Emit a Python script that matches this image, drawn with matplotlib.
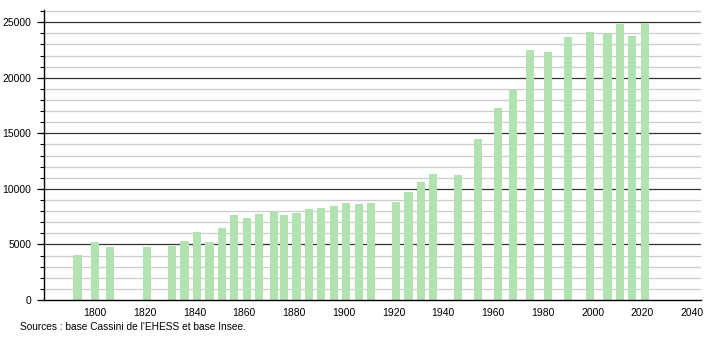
import numpy as np
import matplotlib.pyplot as plt

years = [1793, 1800, 1806, 1821, 1831, 1836, 1841, 1846, 1851, 1856, 1861,
         1866, 1872, 1876, 1881, 1886, 1891, 1896, 1901, 1906, 1911,
         1921, 1926, 1931, 1936, 1946, 1954, 1962, 1968, 1975, 1982,
         1990, 1999, 2006, 2011, 2016, 2021]
population = [4050, 5220, 4770, 4770, 4890, 5340, 6150, 5250, 6510, 7650, 7380,
              7740, 7920, 7650, 7830, 8190, 8280, 8460, 8730, 8640, 8730,
              8820, 9720, 10620, 11340, 11250, 14490, 17280, 18900, 22500, 22320,
              23670, 24120, 24000, 24840, 23760, 24930]
xticks = list(range(1800, 2041, 20))
source = "Sources : base Cassini de l'EHESS et base Insee."

plt.rcParams['font.family'] = ['Liberation Sans', 'DejaVu Sans']

fig = plt.figure(figsize=(7.1, 3.4), dpi=100)
ax = fig.add_axes([44 / 710, 40 / 340, 657 / 710, 290 / 340])

# gridlines: light every 1000, dark every 5000
for v in range(1000, 26001, 1000):
    if v % 5000 == 0:
        ax.axhline(v, color='#333333', lw=0.9, zorder=1)
    else:
        ax.axhline(v, color='#cccccc', lw=0.9, zorder=1)

ax.bar(years, population, width=3.3, color='#b2e2b2', edgecolor='none', zorder=2)

ax.set_xlim(1779.5, 2043.6)
ax.set_ylim(0, 26100)
ax.set_xticks(xticks)
ax.set_yticks(range(0, 25001, 5000))
ax.set_yticks(range(0, 26001, 1000), minor=True)
ax.tick_params(axis='x', length=0, labelsize=7.5, pad=6)
ax.tick_params(axis='y', which='major', length=5, width=0.9, labelsize=7.5, pad=4)
ax.tick_params(axis='y', which='minor', length=3, width=0.8)

for s in ['top', 'right']:
    ax.spines[s].set_visible(False)
ax.spines['left'].set_linewidth(1)
ax.spines['bottom'].set_linewidth(1)

fig.text(20 / 710, 1 - 327 / 340, source, fontsize=7.3, va='center', ha='left')

fig.savefig('out.png', dpi=100)
